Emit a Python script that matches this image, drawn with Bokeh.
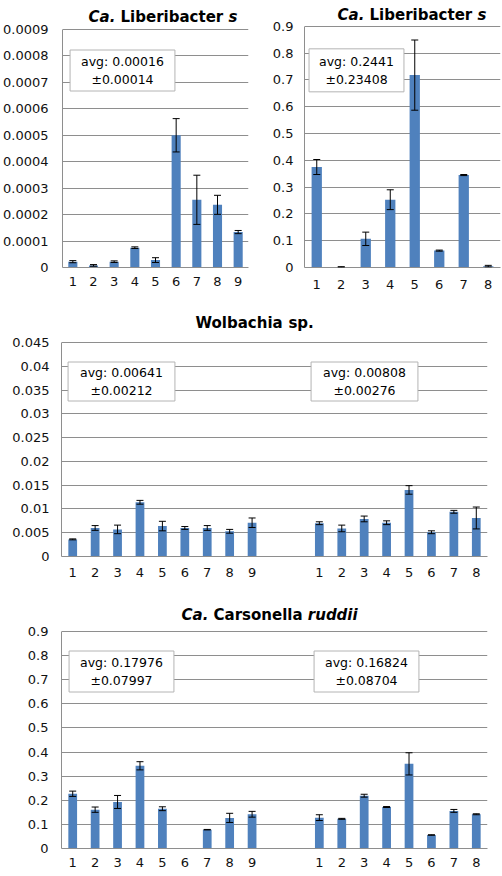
from bokeh.plotting import figure
from bokeh.models import ColumnDataSource, Range1d, FixedTicker, Whisker, TeeHead, Label
from bokeh.layouts import column, row
from bokeh.embed import file_html
from bokeh.resources import INLINE

# ---------------- data ----------------
cats_a = ["1", "2", "3", "4", "5", "6", "7", "8", "9"]
vals_a = [0.000022, 0.000008, 0.000022, 0.000075, 0.000028, 0.000500, 0.000256, 0.000237, 0.000134]
errs_a = [0.000004, 0.000003, 0.000003, 0.000003, 0.000009, 0.000063, 0.000093, 0.000036, 0.000006]
yticks_a = [0, 0.0001, 0.0002, 0.0003, 0.0004, 0.0005, 0.0006, 0.0007, 0.0008, 0.0009]
ylabels_a = ["0", "0.0001", "0.0002", "0.0003", "0.0004", "0.0005", "0.0006", "0.0007", "0.0008", "0.0009"]
note_a = "avg: 0.00016\n±0.00014"

cats_b = ["1", "2", "3", "4", "5", "6", "7", "8"]
vals_b = [0.375, 0.002, 0.107, 0.253, 0.718, 0.063, 0.345, 0.005]
errs_b = [0.028, 0.001, 0.025, 0.037, 0.131, 0.002, 0.002, 0.003]
yticks_b = [0, 0.1, 0.2, 0.3, 0.4, 0.5, 0.6, 0.7, 0.8, 0.9]
ylabels_b = ["0", "0.1", "0.2", "0.3", "0.4", "0.5", "0.6", "0.7", "0.8", "0.9"]
note_b = "avg: 0.2441\n±0.23408"

cats_c1 = ["1", "2", "3", "4", "5", "6", "7", "8", "9"]
vals_c1 = [0.0036, 0.0060, 0.0057, 0.0114, 0.0064, 0.0060, 0.0060, 0.0053, 0.0071]
errs_c1 = [0.0001, 0.0005, 0.0009, 0.0004, 0.0010, 0.0003, 0.0005, 0.0004, 0.0010]
cats_c2 = ["1", "2", "3", "4", "5", "6", "7", "8"]
vals_c2 = [0.0070, 0.0059, 0.0079, 0.0071, 0.0140, 0.0051, 0.0094, 0.0081]
errs_c2 = [0.0003, 0.0007, 0.0006, 0.0004, 0.0009, 0.0003, 0.0003, 0.0023]
yticks_c = [0, 0.005, 0.01, 0.015, 0.02, 0.025, 0.03, 0.035, 0.04, 0.045]
ylabels_c = ["0", "0.005", "0.01", "0.015", "0.02", "0.025", "0.03", "0.035", "0.04", "0.045"]
note_c1 = "avg: 0.00641\n±0.00212"
note_c2 = "avg: 0.00808\n±0.00276"

cats_d1 = ["1", "2", "3", "4", "5", "6", "7", "8", "9"]
vals_d1 = [0.227, 0.161, 0.193, 0.343, 0.165, 0.0, 0.078, 0.127, 0.142]
errs_d1 = [0.011, 0.011, 0.027, 0.017, 0.008, 0.0, 0.001, 0.019, 0.012]
cats_d2 = ["1", "2", "3", "4", "5", "6", "7", "8"]
vals_d2 = [0.128, 0.123, 0.219, 0.172, 0.351, 0.056, 0.156, 0.142]
errs_d2 = [0.012, 0.002, 0.006, 0.002, 0.046, 0.001, 0.006, 0.002]
yticks_d = [0, 0.1, 0.2, 0.3, 0.4, 0.5, 0.6, 0.7, 0.8, 0.9]
ylabels_d = ["0", "0.1", "0.2", "0.3", "0.4", "0.5", "0.6", "0.7", "0.8", "0.9"]
note_d1 = "avg: 0.17976\n±0.07997"
note_d2 = "avg: 0.16824\n±0.08704"

title_a = [("Ca.", "bold italic"), ("Liberibacter", "bold"), ("s", "bold italic")]
title_b = [("Ca.", "bold italic"), ("Liberibacter", "bold"), ("s", "bold italic")]
title_c = [("Wolbachia", "bold"), ("sp.", "bold")]
title_d = [("Ca.", "bold italic"), ("Carsonella", "bold"), ("ruddii", "bold italic")]

GAP = 2  # empty category slots between the two groups

# ---------------- styling ----------------
BAR = "#4F81BD"
GRID = "#8E8E8E"
FONT = "DejaVu Sans"
TICK_SIZE = "13px"
TITLE_SIZE = 15

# approximate DejaVu Sans Bold advance widths (em)
BOLD_W = {"C": .734, "a": .675, ".": .380, "L": .637, "i": .343, "b": .716, "e": .678,
          "r": .493, "c": .593, "t": .478, "s": .595, "W": 1.103, "o": .687, "l": .343,
          "h": .712, "p": .716, "n": .712, "d": .716, "u": .712, " ": .348}


def text_w(s, size):
    return sum(BOLD_W.get(ch, 0.65) for ch in s) * size


def make_panel(groups, yticks, ylabels, width, height, bl, br, bt, bb, plot_h, extra,
               bar_width, ystand, xstand, title, title_off, notes):
    pos = 0
    tick_pos, tick_lab = [], {}
    bx, btop = [], []
    wx, wu, wl = [], [], []
    for gi, (cats, vals, errs) in enumerate(groups):
        if gi > 0:
            pos += GAP
        for c, v, e in zip(cats, vals, errs):
            pos += 1
            tick_pos.append(pos)
            tick_lab[pos] = c
            bx.append(pos)
            btop.append(v)
            if e > 0 and v > 0:
                wx.append(pos)
                wu.append(v + e)
                wl.append(max(v - e, 0))

    x0 = 0.5
    ytop = yticks[-1]
    # extra headroom inside the frame holds the chart title
    yend = ytop * (plot_h + extra) / plot_h
    p = figure(width=width, height=height,
               x_range=Range1d(x0, pos + 0.5), y_range=Range1d(yticks[0], yend),
               output_backend="svg", toolbar_location=None,
               min_border_left=bl, min_border_right=br,
               min_border_top=bt, min_border_bottom=bb)
    p.outline_line_color = None
    p.background_fill_color = "white"
    p.border_fill_color = "white"
    p.xgrid.visible = False
    p.ygrid.grid_line_color = GRID
    p.ygrid.grid_line_width = 1
    p.ygrid.ticker = FixedTicker(ticks=yticks)

    p.xaxis.ticker = FixedTicker(ticks=tick_pos)
    p.xaxis.major_label_overrides = tick_lab
    p.yaxis.ticker = FixedTicker(ticks=yticks)
    p.yaxis.major_label_overrides = {t: l for t, l in zip(yticks, ylabels)}
    p.yaxis.bounds = (yticks[0], ytop)
    for ax in (p.xaxis, p.yaxis):
        ax.axis_line_color = GRID
        ax.major_tick_out = 0
        ax.major_tick_in = 0
        ax.minor_tick_out = 0
        ax.minor_tick_in = 0
        ax.major_label_text_font = FONT
        ax.major_label_text_font_size = TICK_SIZE
        ax.major_label_text_color = "#111111"
    p.yaxis.major_label_standoff = ystand
    p.xaxis.major_label_standoff = xstand

    src = ColumnDataSource(dict(x=bx, top=btop))
    p.vbar(x="x", top="top", width=bar_width, source=src,
           fill_color=BAR, line_color=None)

    wsrc = ColumnDataSource(dict(x=wx, upper=wu, lower=wl))
    wk = Whisker(source=wsrc, base="x", upper="upper", lower="lower",
                 line_color="black", line_width=1, level="annotation",
                 upper_head=TeeHead(size=7, line_color="black", line_width=1),
                 lower_head=TeeHead(size=7, line_color="black", line_width=1))
    p.add_layout(wk)

    # title pieces (mixed bold / bold-italic)
    ox, oy = title_off
    cur = ox
    for txt, style in title:
        p.add_layout(Label(x=x0, y=ytop, x_units="data", y_units="data",
                           x_offset=cur, y_offset=oy, text=txt,
                           text_align="left", text_baseline="middle",
                           text_font=FONT, text_font_size=f"{TITLE_SIZE}px",
                           text_font_style=style, text_color="black"))
        cur += text_w(txt, TITLE_SIZE) + text_w(" ", TITLE_SIZE)

    # average boxes
    for txt, cx, cy, ph, pv in notes:
        p.add_layout(Label(x=x0, y=ytop, x_units="data", y_units="data",
                           x_offset=cx, y_offset=-cy, text=txt,
                           text_align="center", text_baseline="middle",
                           text_font=FONT, text_font_size="12.5px",
                           text_color="black",
                           background_fill_color="white",
                           border_line_color="#B4B4B4", border_line_width=1,
                           padding=dict(left=ph, right=ph, top=pv, bottom=pv)))
    return p


# width, height, border l/r/top/bottom, plot height, title headroom
fa = make_panel([(cats_a, vals_a, errs_a)], yticks_a, ylabels_a,
                250, 292, 62, 2, 4, 25, 238, 25, 0.44, 14, 9,
                title_a, (26, 13), [(note_a, 60, 41, 11, 4)])
fb = make_panel([(cats_b, vals_b, errs_b)], yticks_b, ylabels_b,
                252, 292, 54, 2, 2, 25, 243, 22, 0.42, 11, 12,
                title_b, (33, 11), [(note_b, 52, 44, 10, 5)])
fc = make_panel([(cats_c1, vals_c1, errs_c1), (cats_c2, vals_c2, errs_c2)],
                yticks_c, ylabels_c, 502, 292, 61, 11, 18, 28, 214, 32, 0.39, 12, 11,
                title_c, (134, 20),
                [(note_c1, 60, 39, 12, 3), (note_c2, 303, 39, 12, 3)])
fd = make_panel([(cats_d1, vals_d1, errs_d1), (cats_d2, vals_d2, errs_d2)],
                yticks_d, ylabels_d, 502, 292, 54, 15, 18, 28, 217, 29, 0.39, 13, 9,
                title_d, (120, 17),
                [(note_d1, 60, 40, 11, 4), (note_d2, 305, 40, 11, 4)])

layout = column(row(fa, fb), fc, fd)

with open("out.html", "w") as f:
    f.write(file_html(layout, INLINE))
